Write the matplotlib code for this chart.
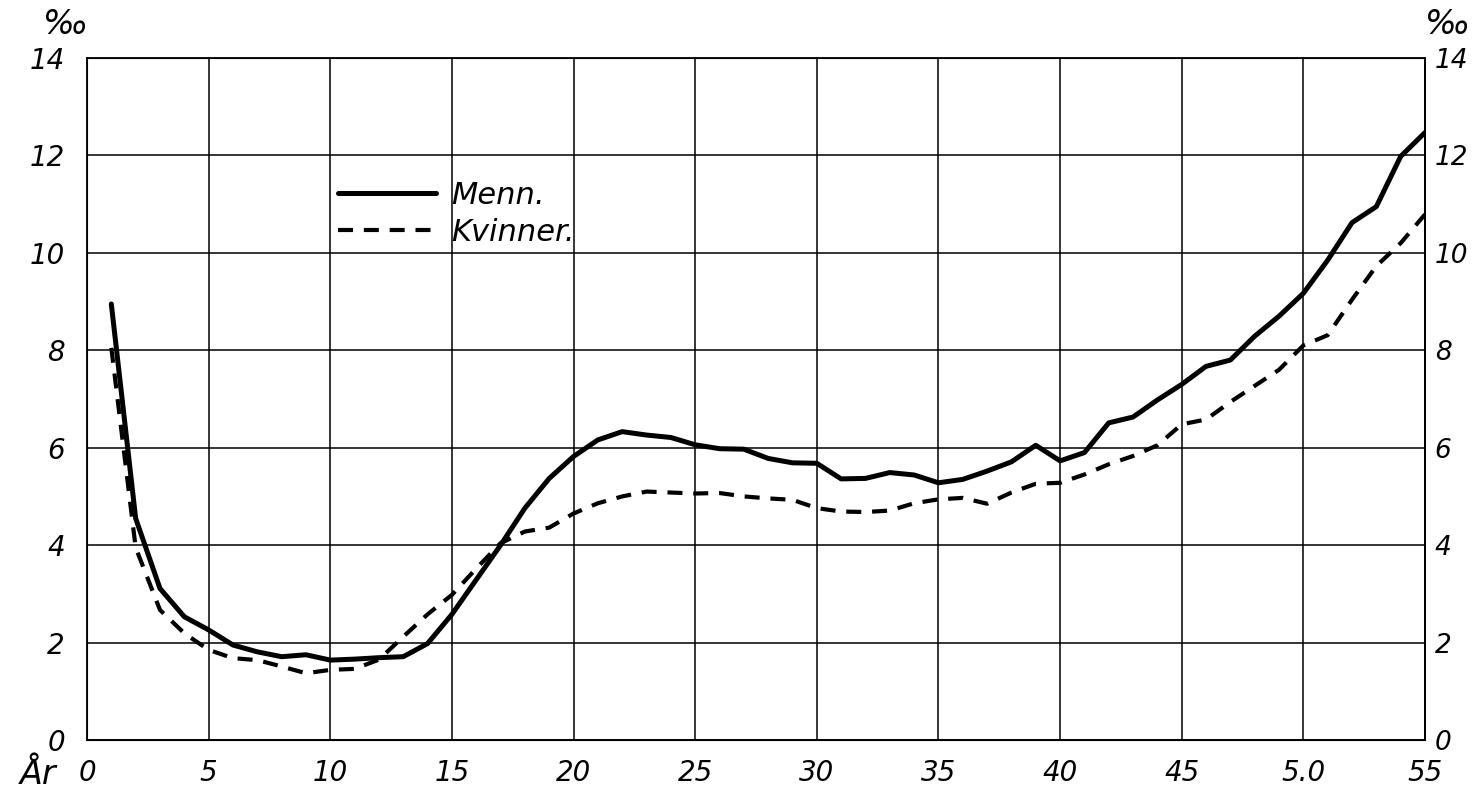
import numpy as np
import matplotlib
matplotlib.use("Agg")
import matplotlib.pyplot as plt

# ---------- Data ----------
alder = np.arange(1, 56)

menn = [8.95, 4.55, 3.11, 2.53, 2.26, 1.95, 1.81, 1.71, 1.75, 1.64,
        1.66, 1.69, 1.71, 1.98, 2.58, 3.29, 4.00, 4.76, 5.37, 5.82,
        6.16, 6.33, 6.26, 6.21, 6.06, 5.98, 5.97, 5.78, 5.69, 5.68,
        5.36, 5.37, 5.49, 5.44, 5.28, 5.35, 5.52, 5.71, 6.05, 5.73,
        5.90, 6.51, 6.63, 6.98, 7.30, 7.67, 7.80, 8.29, 8.70, 9.17,
        9.85, 10.62, 10.95, 11.98, 12.47]

kvinner = [8.05, 3.95, 2.67, 2.19, 1.85, 1.68, 1.64, 1.51, 1.37, 1.44,
           1.46, 1.65, 2.12, 2.58, 2.98, 3.52, 4.04, 4.28, 4.36, 4.65,
           4.86, 5.00, 5.10, 5.08, 5.06, 5.07, 5.00, 4.96, 4.93, 4.76,
           4.69, 4.68, 4.71, 4.86, 4.94, 4.97, 4.85, 5.08, 5.26, 5.28,
           5.45, 5.66, 5.83, 6.05, 6.48, 6.58, 6.94, 7.27, 7.60, 8.10,
           8.31, 9.04, 9.73, 10.20, 10.79]

x_ticks = [0, 5, 10, 15, 20, 25, 30, 35, 40, 45, 50, 55]
x_labels = ["0", "5", "10", "15", "20", "25", "30", "35", "40", "45", "5.0", "55"]
y_ticks = [0, 2, 4, 6, 8, 10, 12, 14]

# ---------- Figure ----------
plt.rcParams['font.family'] = ['DejaVu Sans']
plt.rcParams['font.style'] = 'italic'

fig = plt.figure(figsize=(14.73, 7.95), dpi=100)
ax = fig.add_axes([87/1473, 1-740/795, (1425-87)/1473, (740-58)/795])

ax.plot(alder, menn, color='black', lw=3.6, solid_joinstyle='round',
        solid_capstyle='round', label='Menn.')
ax.plot(alder, kvinner, color='black', lw=3.0, dashes=(3.6, 2.6),
        label='Kvinner.')

ax.set_xlim(0, 55)
ax.set_ylim(0, 14)
ax.set_xticks(x_ticks)
ax.set_xticklabels(x_labels)
ax.set_yticks(y_ticks)
ax.grid(True, color='black', lw=1.1)
for s in ax.spines.values():
    s.set_linewidth(1.3)

ax.tick_params(axis='both', length=0, labelsize=20)
ax.tick_params(axis='x', pad=14)
ax.tick_params(axis='y', pad=16)

# skala ogsaa paa hoyre side
ax2 = ax.twinx()
ax2.set_ylim(0, 14)
ax2.set_yticks(y_ticks)
ax2.tick_params(axis='y', length=0, labelsize=19, pad=7)
ax2.spines['right'].set_linewidth(1.3)

# enheter og aksetekst
fig.text(65/1473, 1-25/795, '‰', fontsize=24, ha='center', va='center')
fig.text(1447/1473, 1-25/795, '‰', fontsize=24, ha='center', va='center')
fig.text(38/1473, 1-775/795, 'År', fontsize=24, ha='center', va='center')

ax.legend(loc='upper left', bbox_to_anchor=(0.167, 0.86), frameon=False,
          fontsize=22, handlelength=3.2, handletextpad=0.5, labelspacing=0.25)

fig.savefig('out.png', dpi=100, facecolor='white')
